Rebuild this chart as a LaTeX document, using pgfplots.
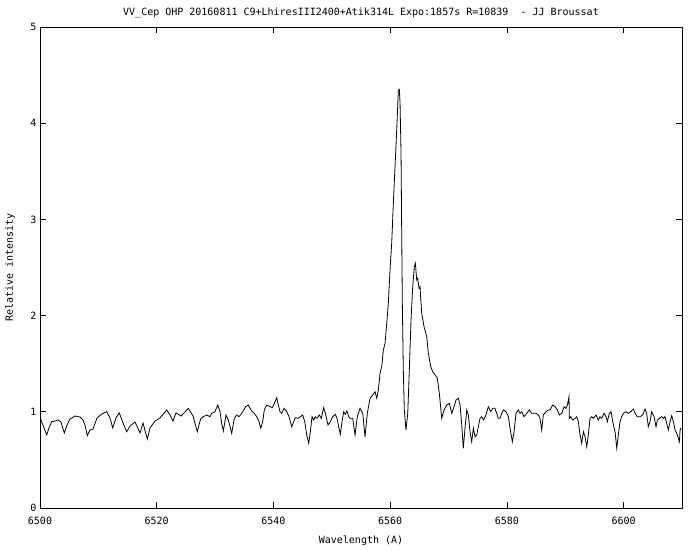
\documentclass[border=0pt]{standalone}
\usepackage{fontspec}
\setmainfont{DejaVu Sans Mono}
\usepackage{pgfplots}
\pgfplotsset{compat=1.18}
\begin{document}
\begin{tikzpicture}
\begin{axis}[
  name=ax,
  scale only axis,
  width=642pt, height=481pt,
  xmin=6500, xmax=6610, ymin=0, ymax=5,
  xtick={6500,6520,6540,6560,6580,6600},
  ytick={0,1,2,3,4,5},
  major tick length=6pt,
  tick style={black, line width=0.8pt},
  axis line style={line width=0.8pt},
  tick align=inside,
  /pgf/number format/assume math mode=true,
  /pgf/number format/1000 sep={},
  font=\fontsize{10}{12}\selectfont,
  ticklabel style={font=\fontsize{10}{12}\selectfont},
  xticklabel style={yshift=-6pt},
  title={VV\_Cep OHP 20160811 C9+LhiresIII2400+Atik314L Expo:1857s R=10839\ \ - JJ Broussat},
  title style={at={(axis description cs:0.5,1.0166)}, anchor=center, font=\fontsize{10}{12}\selectfont},
  xlabel={Wavelength (A)},
  xlabel style={at={(axis description cs:0.5,-0.0686)}, anchor=center, font=\fontsize{10}{12}\selectfont},
  ylabel={Relative intensity},
  ylabel style={at={(axis description cs:-0.0467,0.5)}, anchor=center, rotate=0, font=\fontsize{10}{12}\selectfont},
]
\addplot[black, line width=0.8pt, mark=none] coordinates {
(6500.09,0.936)(6500.17,0.915)(6500.69,0.832)(6501.15,0.759)(6501.54,0.832)(6502.00,0.897)
(6502.57,0.904)(6503.08,0.915)(6503.60,0.894)(6504.16,0.780)(6504.63,0.863)(6505.14,0.925)
(6506.00,0.956)(6506.85,0.946)(6507.37,0.915)(6507.71,0.863)(6508.10,0.752)(6508.57,0.811)
(6509.08,0.821)(6509.77,0.936)(6510.62,0.977)(6511.43,1.001)(6511.99,0.936)(6512.46,0.832)
(6513.02,0.936)(6513.59,0.988)(6514.22,0.884)(6514.86,0.793)(6515.42,0.852)(6516.28,0.894)
(6517.14,0.780)(6517.65,0.884)(6518.39,0.717)(6518.85,0.832)(6519.71,0.904)(6520.56,0.936)
(6521.71,1.019)(6522.28,0.967)(6522.79,0.904)(6523.30,0.988)(6524.16,0.956)(6525.41,1.036)
(6526.22,0.956)(6526.95,0.793)(6527.42,0.904)(6527.59,0.932)(6527.98,0.949)(6528.56,0.967)
(6529.13,0.949)(6529.42,0.984)(6529.99,1.001)(6530.45,1.071)(6530.84,1.001)(6531.13,0.880)
(6531.41,0.800)(6531.87,0.967)(6532.27,0.915)(6532.56,0.845)(6532.85,0.776)(6533.29,0.932)
(6533.70,0.967)(6534.10,0.949)(6534.56,0.984)(6535.25,1.053)(6535.69,1.071)(6535.98,1.036)
(6536.38,1.001)(6536.72,0.984)(6537.13,0.949)(6537.53,0.897)(6537.82,0.829)(6538.16,0.897)
(6538.43,1.019)(6538.85,1.071)(6539.41,1.053)(6539.81,1.043)(6540.27,1.105)(6540.56,1.147)
(6540.83,1.071)(6541.12,1.001)(6541.42,0.984)(6541.81,1.036)(6542.27,1.001)(6542.67,0.949)
(6543.13,0.845)(6543.47,0.897)(6543.75,0.939)(6544.21,0.932)(6544.60,0.949)(6545.01,0.967)
(6545.36,0.897)(6545.70,0.759)(6546.04,0.673)(6546.32,0.793)(6546.61,0.949)(6546.90,0.915)
(6547.17,0.949)(6547.46,0.932)(6547.86,0.967)(6548.20,0.932)(6548.61,1.043)(6548.89,0.984)
(6549.35,0.863)(6549.74,0.897)(6550.15,0.949)(6550.60,0.974)(6550.89,0.932)(6551.18,0.845)
(6551.46,0.766)(6551.75,0.897)(6552.04,1.001)(6552.31,0.974)(6552.60,1.008)(6552.90,0.949)
(6553.12,0.932)(6553.58,0.932)(6553.98,0.759)(6554.37,0.949)(6554.83,1.036)(6555.30,0.984)
(6555.69,0.741)(6556.08,0.984)(6556.55,1.140)(6557.01,1.175)(6557.40,1.209)(6557.70,1.140)
(6557.97,1.227)(6558.26,1.400)(6558.55,1.469)(6558.83,1.642)(6559.12,1.712)(6559.41,1.920)
(6559.68,2.128)(6559.97,2.474)(6560.26,2.752)(6560.54,3.167)(6560.83,3.548)(6561.12,3.929)
(6561.40,4.345)(6561.57,4.352)(6561.69,4.207)(6561.86,3.687)(6561.98,2.820)(6562.08,2.128)
(6562.25,1.434)(6562.42,1.019)(6562.71,0.811)(6563.01,0.984)(6563.28,1.434)(6563.57,1.954)
(6563.86,2.300)(6564.14,2.508)(6564.31,2.544)(6564.55,2.370)(6564.72,2.388)(6564.94,2.284)
(6565.11,2.300)(6565.40,2.024)(6565.80,1.885)(6566.26,1.781)(6566.54,1.608)(6566.95,1.469)
(6567.29,1.417)(6567.68,1.383)(6568.08,1.348)(6568.42,1.192)(6568.83,0.932)(6569.23,1.019)
(6569.69,1.071)(6570.14,1.088)(6570.55,0.984)(6570.94,1.053)(6571.28,1.123)(6571.67,1.140)
(6571.97,1.071)(6572.26,0.863)(6572.53,0.621)(6572.82,0.829)(6573.12,1.019)(6573.39,0.967)
(6573.68,0.793)(6573.97,0.689)(6574.25,0.829)(6574.54,0.741)(6574.83,0.759)(6575.10,0.845)
(6575.39,0.932)(6575.68,0.949)(6575.96,0.915)(6576.42,0.967)(6576.81,1.053)(6577.22,1.001)
(6577.57,1.036)(6577.96,1.036)(6578.25,0.984)(6578.53,0.932)(6578.82,0.932)(6579.11,0.984)
(6579.39,1.019)(6579.85,1.001)(6580.25,0.949)(6580.54,0.829)(6580.93,0.689)(6581.22,0.793)
(6581.56,0.984)(6581.96,1.019)(6582.25,0.984)(6582.54,1.001)(6582.93,0.949)(6583.40,0.984)
(6583.84,1.019)(6584.25,0.984)(6584.53,0.984)(6584.99,0.984)(6585.38,0.967)(6585.67,0.932)
(6585.96,0.811)(6586.24,0.967)(6586.70,1.001)(6587.10,1.019)(6587.39,1.019)(6587.85,1.071)
(6588.25,1.053)(6588.64,1.019)(6588.98,0.967)(6589.39,0.984)(6589.79,1.053)(6590.13,1.036)
(6590.36,1.071)(6590.64,1.157)(6590.70,0.932)(6590.94,0.949)(6591.28,0.915)(6591.67,0.932)
(6591.96,0.949)(6592.24,0.897)(6592.53,0.759)(6592.82,0.673)(6593.10,0.793)(6593.39,0.741)
(6593.68,0.637)(6593.95,0.759)(6594.24,0.932)(6594.53,0.949)(6594.81,0.932)(6595.26,0.967)
(6595.66,0.915)(6595.96,0.949)(6596.25,0.932)(6596.64,0.984)(6596.99,0.949)(6597.21,0.897)
(6597.55,0.984)(6597.84,1.001)(6598.13,0.897)(6598.53,0.793)(6598.82,0.621)(6599.09,0.759)
(6599.38,0.897)(6599.67,0.949)(6599.95,0.984)(6600.41,1.001)(6600.81,0.984)(6601.22,1.001)
(6601.66,1.029)(6601.96,0.984)(6602.35,0.949)(6602.81,0.949)(6603.27,0.967)(6603.66,1.029)
(6603.95,0.984)(6604.23,0.845)(6604.52,0.897)(6604.81,1.001)(6605.21,0.949)(6605.55,0.845)
(6605.77,0.915)(6606.11,0.932)(6606.53,0.949)(6606.80,0.932)(6607.09,0.949)(6607.38,0.880)
(6607.66,0.811)(6607.95,0.897)(6608.24,0.960)(6608.52,0.897)(6608.81,0.811)(6609.20,0.759)
(6609.55,0.689)(6609.67,0.811)(6609.84,0.832)
};
\end{axis}
\pgfresetboundingbox
\path (ax.south west) +(-40pt,-42pt) (ax.north east) +(18pt,27pt);
\end{tikzpicture}
\end{document}
